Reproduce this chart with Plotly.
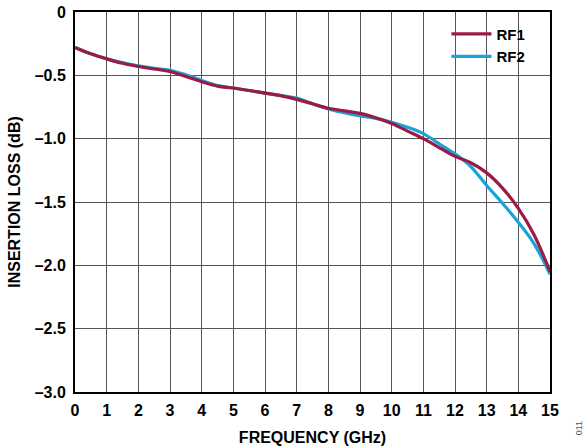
import plotly.graph_objects as go

freq = [0, 0.5, 1, 1.5, 2, 2.5, 3, 3.5, 4, 4.5, 5, 5.5, 6, 6.5, 7, 7.5, 8, 8.5, 9, 9.5,
        10, 10.5, 11, 11.5, 12, 12.5, 13, 13.5, 14, 14.5, 15]
rf1 = [-0.28, -0.33, -0.37, -0.405, -0.43, -0.45, -0.47, -0.51, -0.55, -0.585, -0.60,
       -0.62, -0.64, -0.66, -0.69, -0.725, -0.76, -0.78, -0.80, -0.835, -0.88, -0.94,
       -1.00, -1.07, -1.14, -1.19, -1.27, -1.39, -1.55, -1.76, -2.05]
rf2 = [-0.28, -0.33, -0.37, -0.40, -0.425, -0.445, -0.46, -0.495, -0.54, -0.58, -0.60,
       -0.62, -0.64, -0.66, -0.68, -0.725, -0.765, -0.795, -0.82, -0.84, -0.87, -0.91,
       -0.96, -1.04, -1.12, -1.22, -1.37, -1.51, -1.66, -1.83, -2.07]

x_ticks = list(range(0, 16))
y_ticks = [0, -0.5, -1.0, -1.5, -2.0, -2.5, -3.0]
y_labels = ["0", "–0.5", "–1.0", "–1.5", "–2.0", "–2.5", "–3.0"]

FONT = "Liberation Sans, Arial, sans-serif"

fig = go.Figure()
fig.add_trace(go.Scatter(x=freq, y=rf2, mode="lines", name="RF2",
                         line=dict(color="#1AA3D8", width=3.2, shape="spline")))
fig.add_trace(go.Scatter(x=freq, y=rf1, mode="lines", name="RF1",
                         line=dict(color="#9B1B45", width=3.2, shape="spline")))

fig.update_layout(
    width=587, height=448,
    margin=dict(l=75, r=37, t=12, b=56, autoexpand=False),
    paper_bgcolor="white", plot_bgcolor="white",
    font=dict(family=FONT, size=16, color="black"),
    showlegend=True,
    legend=dict(x=0.782, y=0.985, xanchor="left", yanchor="top",
                traceorder="reversed",
                font=dict(family=FONT, size=15, color="black", weight="bold"),
                bgcolor="rgba(255,255,255,0)", itemwidth=40, tracegroupgap=0),
    xaxis=dict(range=[0, 15], tickvals=x_ticks, ticktext=[str(v) for v in x_ticks],
               showgrid=True, gridcolor="#555555", gridwidth=1.2,
               showline=True, linecolor="black", linewidth=2, mirror=True,
               ticks="", zeroline=False, ticklabelstandoff=3, automargin=False,
               tickfont=dict(family=FONT, size=16, weight="bold"),
               title=dict(text="FREQUENCY (GHz)", standoff=14,
                          font=dict(family=FONT, size=16, weight="bold"))),
    yaxis=dict(range=[-3, 0], tickvals=y_ticks, ticktext=y_labels,
               showgrid=True, gridcolor="#555555", gridwidth=1.2,
               showline=True, linecolor="black", linewidth=2, mirror=True,
               ticks="", zeroline=False, ticklabelstandoff=4, automargin=False,
               tickfont=dict(family=FONT, size=16, weight="bold"),
               title=dict(text="INSERTION LOSS (dB)", standoff=10,
                          font=dict(family=FONT, size=16, weight="bold"))),
)

fig.add_annotation(text="011", xref="paper", yref="paper", x=1.075, y=-0.12,
                   showarrow=False, textangle=-90,
                   font=dict(family=FONT, size=9, color="#555555"))

fig.write_html("out.html")
